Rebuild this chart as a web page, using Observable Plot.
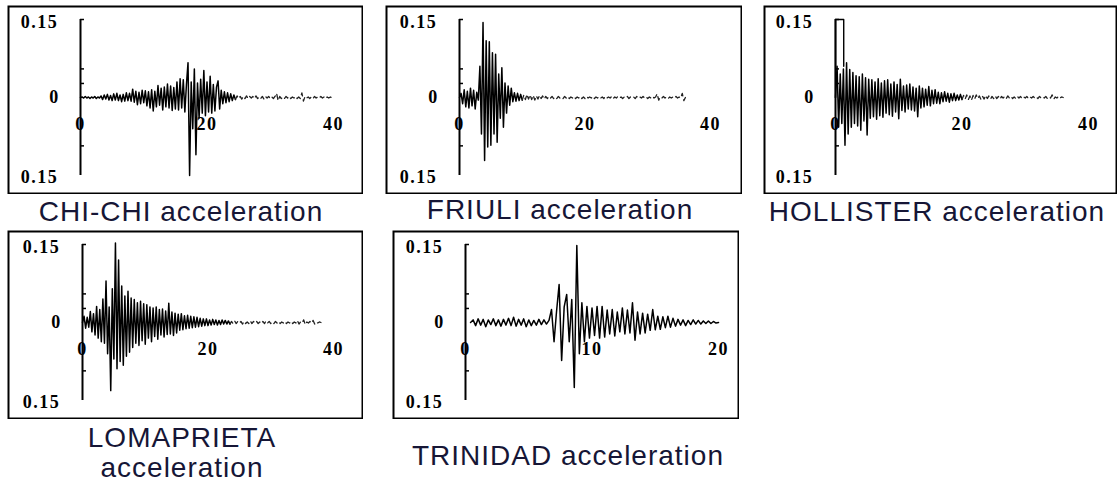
<!DOCTYPE html>
<html><head><meta charset="utf-8">
<script src="https://cdn.jsdelivr.net/npm/d3@7"></script>
<script src="https://cdn.jsdelivr.net/npm/@observablehq/plot@0.6"></script>
<style>
body{margin:0;background:#fff;width:1117px;height:485px;overflow:hidden;position:relative;}
.panel{position:absolute;}
.panel svg{display:block;}
.panel svg text{font-family:"Liberation Serif",serif !important;font-size:18px !important;font-weight:bold !important;letter-spacing:1.5px;}
.cap{position:absolute;font-family:"Liberation Sans",Arial,sans-serif;font-size:28px;line-height:28px;color:#161636;white-space:nowrap;letter-spacing:1px;transform:translateX(-50%);}
</style></head><body>
<script>
// Acceleration values in thousandths of g (milli-g).
// CHI-CHI: t = 0..40 s, step 0.25 s
const chichiMilli = [0,1,-1,2,-1,1,-2,1,-1,2,-2,1,-1,
 3,-4,5,-3,6,-5,4,-6,7,-5,8,-6,5,-8,6,-7,9,-6,8,-7,
 16,-9,12,-14,10,-12,14,-10,13,-16,11,-20,15,-26,12,-18,
 23,-15,18,-24,20,-18,26,-20,22,-25,19,-22,
 30,-24,36,-20,34,-28,25,
 67,-150,30,-60,55,-110,28,-40,35,-30,52,-35,30,-28,41,-30,25,-26,20,32,-22,
 14,-12,11,-10,9,-8,7,-6,5,-4,
 3,-2,2,-3,2,-2,3,-2,2,-1,2,-2,3,-2,1,-2,2,-3,2,-1,2,-2,1,-2,2,
 8,-6,
 2,-2,1,-2,2,-1,2,-2,1,-1,2,-2,1,-2,
 9,-7,
 2,-1,1,-2,1,-2,2,-1,1,-1,2,-1,1,-2,1,-1,1,-1,0];
// FRIULI: t = 0..36 s, step 0.25 s
const friuliMilli = [0,8,-12,15,-18,12,-20,18,-16,14,-22,10,-5,
 60,-70,144,-121,109,-95,107,-92,86,-70,83,-86,45,-40,57,-57,28,-30,22,-15,18,-8,9,-7,8,-6,6,-5,
 5,-4,6,-3,5,-4,4,-5,3,-3,4,-2,3,-3,2,-2,
 2,-1,2,-2,1,-2,2,-1,1,-2,2,-1,2,-2,1,-1,2,-2,1,-1,
 2,-2,1,-2,2,-1,1,-1,2,-2,1,-1,2,-1,1,-2,2,-1,1,-1,
 2,-2,1,-1,2,-1,1,-2,1,-1,2,-2,1,-1,1,-2,2,-1,1,-1,
 2,-1,1,-2,1,-1,2,-1,1,
 7,-5,
 1,-1,2,-1,1,-2,1,-1,1,-1,2,-1,1,-1,
 8,-6,
 0];
// HOLLISTER: t = 0..36 s, step 0.25 s
const hollisterMilli = [0,60,-57,45,-50,55,-92,
 67,-70,54,-57,48,-50,42,-55,40,-63,45,-45,38,-72,35,-40,34,-37,30,-42,
 36,-35,28,-38,32,-30,34,-33,26,-36,30,-28,25,-41,35,-25,22,-28,24,-22,
 26,-24,20,-26,18,-37,22,-20,18,-18,16,-15,21,-16,14,-12,15,-11,10,-12,
 9,-8,11,-7,8,-9,7,-6,8,-6,5,-5,6,-4,
 4,-3,5,-4,3,-5,4,-3,5,-2,3,-4,2,-3,4,-2,3,-3,2,-2,3,-2,2,-3,2,-1,2,-2,3,-1,2,-2,
 1,-2,2,-1,2,-2,1,-1,2,-2,1,-1,2,-1,1,-2,2,-1,1,-1,2,-2,1,-1,5,-3,1,-1,2,-1,1,0];
// HOLLISTER initial clipped pulse (s, g)
const hollisterPulseT = [0, 0, 1.3, 1.3];
const hollisterPulseA = [0, 0.15, 0.15, 0.06];
// LOMAPRIETA: t = 0..38 s, step 0.25 s
const lomaprietaMilli = [0,12,-11,10,-9,21,-18,17,-24,31,-30,25,-37,
 45,-40,80,-60,30,-131,65,-70,153,-89,120,-75,70,-82,51,-65,60,-57,47,-48,
 44,-40,38,-44,41,-35,36,-42,34,-30,30,-37,28,-27,30,-32,25,-24,26,-28,
 22,-23,37,-22,20,-25,18,-20,16,-15,17,-14,13,-12,14,-11,12,-10,11,-9,
 10,-8,8,-7,7,-6,7,-6,
 5,-5,6,-4,5,-5,4,-4,5,-3,4,-3,3,-3,
 2,-2,3,-2,2,-1,2,-3,2,-2,1,-2,3,-2,2,-1,2,-2,1,-2,2,-2,3,-1,2,-2,1,-2,2,-1,
 2,-2,1,-1,2,-2,1,-1,2,-2,1,-1,4,-3,1,-1,5,-4,1,-1,2,-1,4,-3,1,-1,1,0];
// TRINIDAD: t = 0.4..20 s, step 0.2 s
const trinidadMilli = [0,5,-6,7,-5,6,-8,5,-4,7,-6,5,-7,6,-5,8,-6,10,-7,6,-5,7,-8,5,-6,4,-5,6,-4,5,-3,4,
 25,-37,22,73,-73,30,54,-37,44,-125,148,-60,38,-37,31,-30,28,-25,31,-30,
 31,-28,24,-22,25,-26,20,-18,28,-22,24,-20,38,-34,20,-22,18,-20,16,-15,
 25,-14,12,-13,11,-10,12,-9,8,-7,
 6,-5,5,-6,4,-4,5,-3,4,-3,3,-2,3,-2,2,-1,0];

const yTickValues = [0.15, 0.055, 0.027, -0.093];
const xTicks40 = [0, 20, 40];
const xTicks20 = [0, 10, 20];

const panels = [
  {vals: chichiMilli, t0: 0, dt: 0.25, xMax: 40, xTicks: xTicks40, tail: 24.5,
   left: 7, top: 5, width: 356, axis: 73, end: 326, caption: ["CHI-CHI acceleration"], capX: 181, capTop: [198]},
  {vals: friuliMilli, t0: 0, dt: 0.25, xMax: 40, xTicks: xTicks40, tail: 10,
   left: 385, top: 5, width: 357, axis: 74, end: 325, caption: ["FRIULI acceleration"], capX: 560, capTop: [196]},
  {vals: hollisterMilli, t0: 0, dt: 0.25, xMax: 40, xTicks: xTicks40, tail: 20,
   left: 763, top: 5, width: 354, axis: 72, end: 325, caption: ["HOLLISTER acceleration"], capX: 937, capTop: [198],
   pulse: hollisterPulseT.map((t, i) => ({t, a: hollisterPulseA[i]}))},
  {vals: lomaprietaMilli, t0: 0, dt: 0.25, xMax: 40, xTicks: xTicks40, tail: 23.5,
   left: 7, top: 230, width: 356, axis: 75, end: 326, caption: ["LOMAPRIETA", "acceleration"], capX: 182, capTop: [424, 454]},
  {vals: trinidadMilli, t0: 0.4, dt: 0.2, xMax: 20, xTicks: xTicks20, tail: 99,
   left: 392, top: 230, width: 347, axis: 73, end: 326, caption: ["TRINIDAD acceleration"], capX: 568, capTop: [442]}
];

const numFont = {fontFamily: "Liberation Serif", fontSize: 18, fontWeight: "bold", fill: "#000"};

for (const p of panels) {
  const data = p.vals.map((v, i) => ({t: p.t0 + i * p.dt, a: v / 1000}));
  const tickLen = p.xMax * 4 / (p.end - p.axis);
  const marks = [
    Plot.frame({stroke: "#000", strokeWidth: 2, inset: 1}),
    Plot.ruleX([0], {y1: -0.15, y2: 0.15, stroke: "#000", strokeWidth: 2}),
    Plot.ruleY(yTickValues, {x1: 0, x2: tickLen, stroke: "#000", strokeWidth: 1.5}),
    Plot.line(data, {x: "t", y: "a", filter: d => d.t <= p.tail, stroke: "#000", strokeWidth: 1.5}),
    Plot.line(data, {x: "t", y: "a", filter: d => d.t >= p.tail, stroke: "#222", strokeWidth: 1.3, strokeDasharray: "5,4"}),
    Plot.text(p.xTicks, {x: d => d, y: 0, dy: 27, text: d => String(d), ...numFont}),
    Plot.text([0.15], {x: 0, y: d => d, dx: -41, dy: 3, text: () => "0.15", ...numFont}),
    Plot.text([-0.15], {x: 0, y: d => d, dx: -41, dy: 2, text: () => "0.15", ...numFont}),
    Plot.text([0], {x: 0, y: d => d, dx: -26, text: () => "0", ...numFont})
  ];
  if (p.pulse) marks.push(Plot.line(p.pulse, {x: "t", y: "a", stroke: "#000", strokeWidth: 1.4}));
  const svg = Plot.plot({
    width: p.width, height: 189, margin: 0,
    x: {domain: [0, p.xMax], range: [p.axis, p.end], axis: null},
    y: {domain: [-0.15, 0.15], range: [170, 14], axis: null},
    marks
  });
  const div = document.createElement("div");
  div.className = "panel";
  div.style.left = p.left + "px";
  div.style.top = p.top + "px";
  div.appendChild(svg);
  document.body.appendChild(div);
  p.caption.forEach((c, i) => {
    const cap = document.createElement("div");
    cap.className = "cap";
    cap.textContent = c;
    cap.style.left = p.capX + "px";
    cap.style.top = p.capTop[i] + "px";
    document.body.appendChild(cap);
  });
}
</script>
</body></html>
